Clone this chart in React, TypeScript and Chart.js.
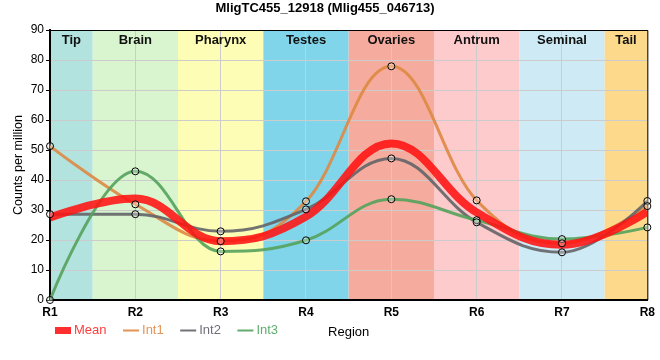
import React, { useEffect, useRef } from 'react';
import { Chart, registerables } from 'chart.js';

Chart.register(...registerables);
Chart.defaults.font.family = '"Liberation Sans", Arial, sans-serif';

const TITLE = 'MligTC455_12918 (Mlig455_046713)';
const Y_TITLE = 'Counts per million';
const X_TITLE = 'Region';
const categories = ['R1', 'R2', 'R3', 'R4', 'R5', 'R6', 'R7', 'R8'];
const regionNames = ['Tip', 'Brain', 'Pharynx', 'Testes', 'Ovaries', 'Antrum', 'Seminal', 'Tail'];
const regionColors = ['#b3e3df', '#d8f5cf', '#fdfdb5', '#80d5ea', '#f5ab9d', '#fdcbcb', '#ceeaf4', '#fdd98c'];
const yMin = 0;
const yMax = 90;
const yStep = 10;

const seriesNames = ['Mean', 'Int1', 'Int2', 'Int3'];
const meanValues = [27.5, 33.8, 19.6, 27.8, 52.2, 29.2, 18.4, 29.4];
const int1Values = [51.3, 31.9, 19.6, 32.9, 77.9, 33.2, 18.9, 31.3];
const int2Values = [28.6, 28.6, 22.9, 30.2, 47.2, 25.9, 15.9, 33.0];
const int3Values = [0, 42.9, 16.2, 19.9, 33.6, 26.6, 20.3, 24.2];
const lineColors = ['rgba(255,18,18,0.88)', 'rgba(222,136,66,0.9)', 'rgba(100,100,104,0.9)', 'rgba(84,162,92,0.9)'];
const textColors = ['#ff3d3d', '#e39458', '#6f6f7a', '#62ad6e'];

// Spline control points (smoothing 1.5, clamped so the curve never overshoots)
function applySpline(points: any[]) {
  const n = points.length;
  const smoothing = 1.5;
  const denom = smoothing + 1;
  for (let i = 0; i < n; i++) {
    const pt = points[i];
    const last = points[i - 1];
    const next = points[i + 1];
    if (last && next) {
      const lcx = (smoothing * pt.x + last.x) / denom;
      let lcy = (smoothing * pt.y + last.y) / denom;
      const rcx = (smoothing * pt.x + next.x) / denom;
      let rcy = (smoothing * pt.y + next.y) / denom;
      let correction = 0;
      if (rcx !== lcx) {
        correction = ((rcy - lcy) * (rcx - pt.x)) / (rcx - lcx) + pt.y - rcy;
      }
      lcy += correction;
      rcy += correction;
      if (lcy > last.y && lcy > pt.y) {
        lcy = Math.max(last.y, pt.y);
        rcy = 2 * pt.y - lcy;
      } else if (lcy < last.y && lcy < pt.y) {
        lcy = Math.min(last.y, pt.y);
        rcy = 2 * pt.y - lcy;
      }
      if (rcy > next.y && rcy > pt.y) {
        rcy = Math.max(next.y, pt.y);
        lcy = 2 * pt.y - rcy;
      } else if (rcy < next.y && rcy < pt.y) {
        rcy = Math.min(next.y, pt.y);
        lcy = 2 * pt.y - rcy;
      }
      pt.cp1x = lcx;
      pt.cp1y = lcy;
      pt.cp2x = rcx;
      pt.cp2y = rcy;
    } else {
      pt.cp1x = pt.x;
      pt.cp1y = pt.y;
      pt.cp2x = pt.x;
      pt.cp2y = pt.y;
    }
  }
}

const splinePlugin = {
  id: 'splineCurve',
  beforeDatasetDraw(chart: any, args: any) {
    const meta = args.meta;
    const ds = chart.data.datasets[args.index];
    if (ds.showLine === false || !meta.dataset) return;
    meta.dataset.updateControlPoints(chart.chartArea, meta.iScale.axis);
    applySpline(meta.data);
  },
};

const bandsPlugin = {
  id: 'bands',
  beforeDraw(chart: any) {
    const { ctx, chartArea } = chart;
    const xs = chart.scales.x;
    ctx.save();
    regionColors.forEach((c, i) => {
      const x0 = Math.max(chartArea.left, xs.getPixelForValue(i - 0.5));
      const x1 = Math.min(chartArea.right, xs.getPixelForValue(i + 0.5));
      ctx.fillStyle = c;
      ctx.fillRect(x0, chartArea.top, x1 - x0, chartArea.bottom - chartArea.top);
    });
    ctx.restore();
  },
  beforeDatasetsDraw(chart: any) {
    const { ctx, chartArea } = chart;
    const xs = chart.scales.x;
    ctx.save();
    ctx.font = 'bold 13px "Liberation Sans", Arial, sans-serif';
    ctx.fillStyle = '#111';
    ctx.textAlign = 'center';
    ctx.textBaseline = 'alphabetic';
    regionNames.forEach((name, i) => {
      const x0 = Math.max(chartArea.left, xs.getPixelForValue(i - 0.5));
      const x1 = Math.min(chartArea.right, xs.getPixelForValue(i + 0.5));
      ctx.fillText(name, (x0 + x1) / 2, chartArea.top + 13.5);
    });
    ctx.strokeStyle = '#000';
    ctx.lineWidth = 1;
    ctx.beginPath();
    ctx.moveTo(chartArea.left, chartArea.top + 0.5);
    ctx.lineTo(chartArea.right + 0.5, chartArea.top + 0.5);
    ctx.lineTo(chartArea.right + 0.5, chartArea.bottom);
    ctx.stroke();
    ctx.restore();
  },
};

const legendPlugin = {
  id: 'customLegend',
  afterDraw(chart: any) {
    const { ctx } = chart;
    ctx.save();
    ctx.font = '13px "Liberation Sans", Arial, sans-serif';
    ctx.textBaseline = 'middle';
    ctx.textAlign = 'left';
    const y = 330.5;
    let x = 55;
    chart.data.datasets.forEach((ds: any) => {
      if (!ds.legendKind) return;
      ctx.fillStyle = ds.borderColor;
      if (ds.legendKind === 'box') {
        ctx.fillRect(x, y - 3.5, 16, 7);
      } else {
        ctx.fillRect(x, y - 1, 16, 2);
      }
      ctx.fillStyle = ds.legendTextColor;
      const tx = x + 19;
      ctx.fillText(ds.label, tx, y);
      x = tx + ctx.measureText(ds.label).width + 16.5;
    });
    ctx.restore();
  },
};

export default function App() {
  const ref = useRef<HTMLCanvasElement | null>(null);

  useEffect(() => {
    if (!ref.current) return;
    const seriesValues = [meanValues, int1Values, int2Values, int3Values];
    const lineWidths = [8, 3, 3, 3];
    const lineOrder = [1, 4, 3, 2];
    const lineSets = seriesNames.map((name, i) => ({
      label: name,
      data: seriesValues[i],
      borderColor: lineColors[i],
      backgroundColor: lineColors[i],
      borderWidth: lineWidths[i],
      pointRadius: 0,
      pointHoverRadius: 0,
      fill: false,
      cubicInterpolationMode: 'monotone',
      clip: 0,
      order: lineOrder[i],
      legendKind: i === 0 ? 'box' : 'line',
      legendTextColor: textColors[i],
    }));
    const pointSets = [int1Values, int2Values, int3Values].map((vals, i) => ({
      label: seriesNames[i + 1] + ' points',
      data: vals,
      showLine: false,
      pointRadius: 3.5,
      pointBorderWidth: 1,
      pointBorderColor: '#000',
      pointBackgroundColor: 'rgba(255,255,255,0.3)',
      clip: false,
      order: 0,
    }));

    const chart = new Chart(ref.current, {
      type: 'line',
      data: { labels: categories, datasets: [...lineSets, ...pointSets] as any },
      options: {
        responsive: false,
        animation: false,
        events: [],
        layout: { padding: { left: 0, right: 10, top: 0, bottom: 0 } },
        plugins: {
          legend: { display: false },
          tooltip: { enabled: false },
          title: {
            display: true,
            text: TITLE,
            color: '#000',
            font: { size: 13, weight: 'bold' },
            padding: { top: 1, bottom: 13.4 },
          },
        },
        scales: {
          x: {
            type: 'category',
            offset: false,
            grid: { color: '#cccccc', lineWidth: 1, drawTicks: false },
            border: { display: true, color: '#000', width: 2 },
            ticks: { color: '#000', font: { size: 12, weight: 'bold' }, padding: 5, maxRotation: 0, autoSkip: false },
            title: {
              display: true,
              text: X_TITLE,
              color: '#000',
              font: { size: 13 },
              padding: { top: 0, bottom: 20 },
            },
            afterFit: (scale: any) => {
              scale.height = 60;
            },
          },
          y: {
            min: yMin,
            max: yMax,
            grid: { color: '#cccccc', lineWidth: 1, drawTicks: true, tickLength: 4, tickColor: '#000' },
            border: { display: true, color: '#000', width: 2 },
            ticks: { stepSize: yStep, color: '#000', font: { size: 12 }, padding: 2 },
            title: {
              display: true,
              text: Y_TITLE,
              color: '#000',
              font: { size: 12.5 },
              padding: { top: 11.5, bottom: 0 },
            },
            afterFit: (scale: any) => {
              scale.width = 50;
            },
          },
        },
      } as any,
      plugins: [bandsPlugin, splinePlugin, legendPlugin],
    });
    return () => chart.destroy();
  }, []);

  return (
    <div style={{ position: 'fixed', left: 0, top: 0, width: 660, height: 360, background: '#fff' }}>
      <canvas ref={ref} width={660} height={360} style={{ display: 'block' }} />
    </div>
  );
}
